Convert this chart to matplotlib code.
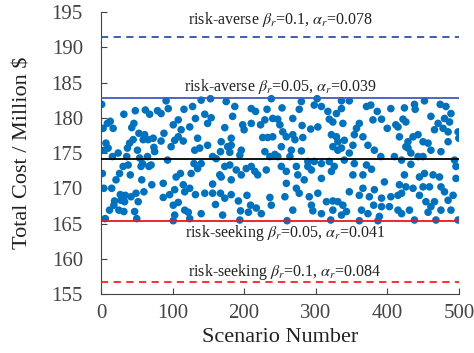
import matplotlib
matplotlib.use('Agg')
import matplotlib.pyplot as plt
import numpy as np

# scenario number and total cost (million $)
scenario = [1, 32, 48, 62, 68, 79, 13, 9, 3, 17, 46, 43, 53, 61, 66, 59, 73, 45, 40, 7,
            10, 5, 37, 51, 74, 75, 24, 16, 36, 54, 65, 58, 31, 38, 56, 67, 70, 2, 26, 41,
            21, 57, 4, 15, 71, 60, 49, 27, 34, 42, 28, 19, 18, 33, 52, 12, 25, 32, 47, 6,
            50,
            91, 140, 153, 94, 84, 116, 128, 145, 154, 132, 108, 101, 124, 149, 112, 88, 108, 103, 84, 115,
            135, 149, 98, 138, 131, 156, 161, 93, 130, 140, 135, 126, 111, 105, 166, 87, 115, 124, 156, 103,
            117, 96, 132, 145, 156, 87, 101, 108, 160, 122, 140, 103, 124, 101, 117,
            175, 238, 187, 210, 216, 232, 184, 240, 229, 247, 210, 198, 223, 173, 200, 226, 233, 240, 182, 168,
            177, 196, 182, 180, 229, 243, 247, 194, 236, 167, 180, 189, 196, 210, 215, 219, 231, 168, 173, 203,
            182, 167, 182, 204, 236, 173, 192, 209, 217, 224, 195, 206, 170, 194, 238,
            280, 302, 253, 277, 298, 308, 317, 329, 268, 319, 324, 250, 281, 293, 303, 254, 259, 268, 282, 271,
            322, 329, 252, 266, 280, 324, 331, 264, 289, 298, 308, 319, 252, 273, 289, 326, 259, 275, 294, 308,
            322, 284, 259, 273, 277, 257, 291, 303, 315, 324, 331, 268, 294, 296, 308, 324, 260, 321,
            336, 347, 371, 377, 386, 405, 336, 338, 361, 380, 392, 357, 400, 412, 354, 366, 331, 340, 373, 352,
            336, 347, 382, 391, 410, 340, 354, 371, 352, 366, 378, 396, 366, 382, 347, 361, 375, 392, 405, 415,
            338, 381, 392, 403, 343, 364, 336, 373, 389, 361, 387, 415,
            452, 424, 438, 439, 474, 482, 461, 489, 480, 422, 426, 471, 487, 415, 466, 478, 485, 499, 500, 417,
            436, 443, 429, 450, 457, 485, 429, 426, 461, 433, 475, 443, 450, 420, 494, 433, 496, 424, 445, 464,
            473, 452, 496, 417, 426, 436, 450, 459, 475, 420, 445, 480, 492, 454, 466, 485, 461, 475, 489, 431,
            420, 457, 438, 468, 499]
cost = [181.9, 180.5, 181.0, 181.1, 180.5, 181.0, 179.5, 179.2, 178.5, 178.5, 179.2, 178.6, 177.8, 177.6, 176.9, 176.9, 177.1, 176.9, 176.4, 176.4,
        175.7, 175.4, 175.7, 175.4, 175.8, 175.2, 175.0, 174.5, 174.5, 174.3, 174.5, 173.5, 173.1, 173.3, 173.1, 173.1, 173.3, 172.1, 172.1, 171.9,
        171.2, 171.2, 170.0, 170.0, 170.5, 169.5, 169.3, 169.1, 169.0, 168.8, 168.3, 168.2, 167.6, 168.1, 168.1, 166.9, 166.9, 166.7, 166.7, 165.7,
        165.7,
        182.4, 182.5, 182.7, 181.3, 180.6, 181.2, 181.6, 180.5, 180.0, 179.9, 179.7, 179.0, 178.7, 179.2, 178.3, 177.8, 177.3, 176.8, 176.7, 176.7,
        177.1, 176.1, 175.9, 175.7, 175.4, 174.5, 174.2, 174.0, 173.5, 173.5, 172.8, 172.1, 172.1, 171.6, 171.9, 170.7, 170.5, 170.0, 170.6, 169.8,
        169.5, 169.1, 169.1, 169.3, 169.3, 168.7, 167.6, 168.0, 167.7, 166.6, 166.4, 166.2, 165.7, 165.4, 166.9,
        182.3, 182.7, 181.6, 181.3, 180.9, 181.2, 180.2, 179.9, 179.7, 179.8, 179.2, 179.0, 179.0, 178.6, 178.3, 177.2, 177.2, 177.3, 177.1, 176.6,
        175.9, 175.4, 176.1, 175.1, 175.2, 174.8, 174.5, 174.7, 174.5, 175.2, 173.3, 172.6, 171.9, 173.1, 172.4, 171.9, 172.6, 171.6, 173.1, 172.8,
        171.2, 169.3, 169.1, 169.0, 168.7, 168.6, 168.2, 167.6, 167.2, 166.4, 166.8, 166.6, 166.2, 165.5, 167.6,
        182.3, 182.7, 181.4, 181.2, 181.8, 181.6, 180.9, 180.6, 179.9, 179.8, 179.4, 179.0, 178.9, 178.4, 178.7, 178.0, 177.3, 177.6, 177.2, 176.9,
        177.6, 177.3, 175.9, 175.4, 175.3, 175.9, 175.4, 174.5, 173.8, 173.8, 173.5, 173.8, 173.1, 173.1, 173.1, 173.1, 172.4, 171.9, 172.6, 171.4,
        172.4, 171.2, 170.7, 170.0, 169.3, 168.8, 168.8, 169.3, 168.1, 168.2, 168.1, 166.9, 167.6, 166.8, 166.4, 166.9, 165.4, 165.5,
        182.4, 182.4, 181.6, 181.8, 180.9, 181.3, 181.3, 179.2, 179.2, 179.7, 179.8, 178.5, 178.5, 179.0, 177.6, 177.3, 176.6, 176.8, 176.1, 176.1,
        175.7, 175.0, 175.4, 174.5, 174.5, 174.0, 173.5, 173.3, 171.9, 171.9, 172.7, 170.9, 170.0, 169.8, 169.5, 169.0, 168.8, 168.6, 168.8, 169.0,
        167.6, 167.6, 167.4, 167.4, 166.7, 166.9, 166.2, 166.4, 166.0, 165.4, 165.4, 166.9,
        182.4, 181.4, 181.9, 181.2, 181.9, 181.6, 180.2, 180.6, 179.9, 179.8, 179.4, 179.2, 179.4, 178.7, 178.3, 178.5, 178.0, 178.0, 177.1, 177.3,
        177.3, 177.6, 176.6, 176.6, 176.4, 176.6, 175.7, 175.9, 175.4, 175.0, 175.2, 174.5, 174.5, 174.0, 174.0, 173.4, 173.1, 171.9, 171.6, 171.9,
        171.6, 172.1, 171.4, 170.5, 170.2, 170.0, 170.2, 170.2, 170.2, 169.3, 169.0, 169.5, 169.0, 168.1, 168.1, 168.3, 167.4, 166.9, 166.9, 166.9,
        166.4, 166.6, 165.5, 165.5, 165.5]

# reference levels
levels = [191.5, 182.8, 174.1, 165.4, 156.7]
level_colors = ['#2e4fae', '#3f5bbf', 'black', '#e8191e', '#ff2020']
level_styles = [(0, (4, 3)), '-', '-', '-', (0, (4, 3))]
labels = [r'risk-averse $\beta_r$=0.1, $\alpha_r$=0.078',
          r'risk-averse $\beta_r$=0.05, $\alpha_r$=0.039',
          r'risk-seeking $\beta_r$=0.05, $\alpha_r$=0.041',
          r'risk-seeking $\beta_r$=0.1, $\alpha_r$=0.084']
label_x = [251, 251, 257, 257]
label_y = [193.9, 184.4, 163.7, 158.1]

plt.rcParams['font.family'] = ['Liberation Serif', 'DejaVu Serif']
plt.rcParams['mathtext.fontset'] = 'stix'

fig = plt.figure(figsize=(4.74, 3.53), dpi=100)
ax = fig.add_axes([0.213, 0.167, 0.755, 0.799])

ax.scatter(scenario, cost, s=30, color='#0072BD', edgecolors='none', zorder=2)
for lv, c, ls in zip(levels, level_colors, level_styles):
    ax.axhline(lv, color=c, linestyle=ls, linewidth=1.3, zorder=3)
for t, xx, yy in zip(labels, label_x, label_y):
    ax.text(xx, yy, t, ha='center', va='center', fontsize=11.5, color='#222222')

ax.set_xlim(0, 500)
ax.set_ylim(155, 195)
ax.set_xticks(np.arange(0, 501, 100))
ax.set_yticks(np.arange(155, 196, 5))
ax.tick_params(direction='in', labelsize=15, colors='#444444', length=4)
ax.tick_params(axis='x', pad=7)
ax.tick_params(axis='y', pad=13)
ax.spines['top'].set_visible(False)
ax.spines['right'].set_visible(False)
for s in ['left', 'bottom']:
    ax.spines[s].set_color('#444444')
ax.set_xlabel('Scenario Number', fontsize=16, color='#222222')
ax.set_ylabel(r'Total Cost / Million \$', fontsize=16, color='#222222')
ax.xaxis.set_label_coords(0.5, -0.12)
ax.yaxis.set_label_coords(-0.19, 0.5)

fig.savefig('out.png', dpi=100)
